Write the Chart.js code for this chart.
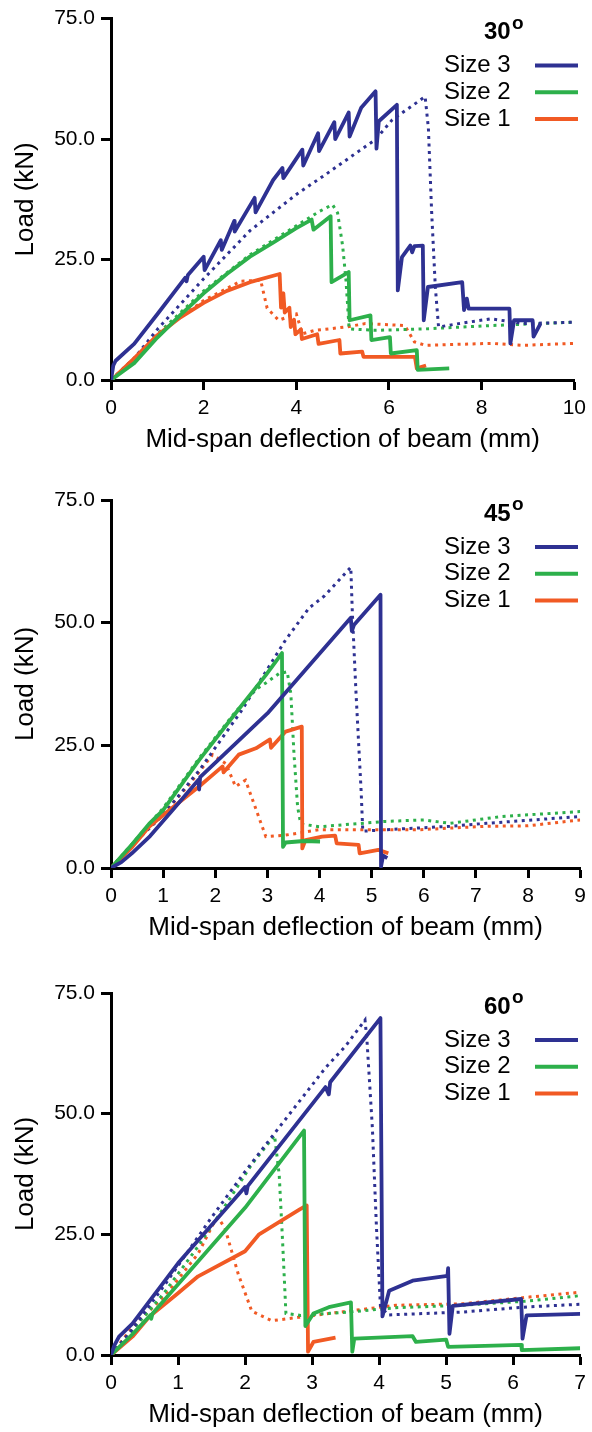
<!DOCTYPE html>
<html>
<head>
<meta charset="utf-8">
<script src="https://cdn.jsdelivr.net/npm/chart.js@4.4.1/dist/chart.umd.min.js"></script>
<style>
  body { margin: 0; background: #fff; }
  canvas { position: absolute; left: 0; }
</style>
</head>
<body>
<canvas id="c30" width="592" height="470" style="top:0px"></canvas>
<canvas id="c45" width="592" height="480" style="top:480px"></canvas>
<canvas id="c60" width="592" height="472" style="top:960px"></canvas>
<script>
// series labels and colours
const sizeLabels = ["Size 3", "Size 2", "Size 1"];
const sizeColors = ["#2E3192", "#2DB04B", "#F15A24"];
const yTicks = [0, 25, 50, 75];

// 30 degrees: [deflection mm, load kN]
const a30_size3 = [[0,0],[0.05,3],[0.1,4],[0.5,7.5],[1.02,13.9],[1.6,21.2],[1.63,20.5],[1.66,21.8],[2.0,25.6],[2.02,22.8],[2.37,29],[2.39,27],[2.66,33],[2.67,30.8],[3.1,37.8],[3.12,34.8],[3.5,41.5],[3.7,44],[3.72,41.9],[4.13,47.8],[4.15,44.5],[4.47,51.2],[4.49,47.5],[4.82,53.5],[4.84,50],[5.13,55.5],[5.15,50.5],[5.4,56.5],[5.71,59.9],[5.73,48],[5.78,53.7],[6.17,57.1],[6.19,18.6],[6.28,25.5],[6.46,27.9],[6.5,26.5],[6.55,27.8],[6.73,27.9],[6.75,12.4],[6.84,19.3],[7.58,20.3],[7.62,14.5],[7.68,16.9],[7.72,14.8],[8.6,14.8],[8.62,7.6],[8.7,12.4],[9.1,12.4],[9.12,9],[9.27,11.7]];
const a30_size3_dot = [[0,0],[0.5,4.5],[1,10.5],[2,21],[3,31],[4,38.5],[4.64,42.7],[5.35,47.5],[5.71,49.9],[6.07,54],[6.78,58.8],[6.85,52.3],[6.92,35],[7.0,19.3],[7.07,11],[7.5,11.7],[8.2,12.7],[8.9,11.7],[10,12]];
const a30_size2 = [[0,0],[0.5,3.5],[1,8.8],[1.5,13.5],[2,18],[2.5,22],[3,25.6],[3.5,28.5],[4,31.5],[4.33,33.3],[4.37,31.2],[4.74,34],[4.76,20.3],[5.13,22.4],[5.15,12.4],[5.6,13.4],[5.62,8.3],[6.02,8.9],[6.04,5.5],[6.6,6.2],[6.62,2.1],[7.3,2.4]];
const a30_size2_dot = [[0,0],[0.5,4],[1,9.5],[2,18.5],[3,26],[4,32],[4.5,35],[4.78,36.4],[4.89,34.7],[5.0,27.8],[5.07,20.9],[5.14,10.6],[5.7,10.3],[6.78,10.6],[8.2,11.3],[10,12]];
const a30_size1 = [[0,0],[0.1,0.8],[0.5,4.5],[1,9.3],[1.5,13],[2,16],[2.5,18.5],[3,20.3],[3.64,22],[3.67,15],[3.72,18],[3.75,14],[3.85,15],[3.88,11],[3.95,12.5],[3.98,9.5],[4.1,10.5],[4.12,8.5],[4.45,9.5],[4.48,7.5],[4.93,8.3],[4.95,5.5],[5.42,5.9],[5.45,4.8],[6.56,4.8],[6.6,2.4],[6.8,3.0]];
const a30_size1_dot = [[0,0],[0.5,4.5],[1,9.5],[2,16.5],[2.8,20.5],[3.23,20.7],[3.37,14.9],[3.62,12.4],[4.0,13.7],[4.13,9.6],[4.4,10.3],[5.07,11],[5.49,11.7],[6.34,11.3],[6.55,7.9],[6.78,7.2],[8.2,7.6],[8.9,7.2],[10,7.6]];

// 45 degrees
const a45_size3 = [[0,0],[0.2,1.2],[0.4,3],[0.75,6.5],[1.2,12],[1.68,18],[1.69,16],[1.71,18.5],[3,31.5],[4.6,51],[4.62,48.3],[4.66,49.5],[5.17,55.7],[5.18,0.3],[5.22,2.5],[5.3,2]];
const a45_size3_dot = [[0,0],[0.4,4.7],[1,10.8],[1.7,20],[2.5,32],[3.35,46.5],[3.8,53],[4.1,55.5],[4.6,61.3],[4.63,52],[4.7,35.7],[4.8,15.3],[4.83,7.5],[5.27,7.8],[6.5,8.5],[7.2,9.1],[9,10.5]];
const a45_size2 = [[0,0],[0.41,4.9],[0.73,9],[1,11.8],[1.69,22],[2.46,32.5],[2.97,39.3],[3.28,43.8],[3.3,4.3],[3.35,5.2],[3.7,5.5],[4.01,5.4]];
const a45_size2_dot = [[0,0],[0.41,5],[1,12.2],[1.7,22.5],[2.4,32],[2.59,34],[2.78,36.4],[2.97,37.7],[3.22,39.6],[3.38,40],[3.45,35.5],[3.51,23.3],[3.58,12.4],[3.64,9],[3.99,8.4],[5.27,9.5],[6.0,9.8],[6.5,9.1],[7.5,10.5],[9,11.5]];
const a45_size1 = [[0,0],[0.41,4.3],[0.73,8.4],[1.05,11.2],[1.69,16.6],[2.14,20.7],[2.16,19.5],[2.45,23.1],[2.78,24.4],[3.05,26.2],[3.07,24.5],[3.35,27.8],[3.66,28.8],[3.67,4],[3.73,5.7],[4.05,6.4],[4.3,6.6],[4.33,5.0],[4.75,4.7],[4.77,3],[5.13,3.7],[5.32,3.0]];
const a45_size1_dot = [[0,0],[0.41,4.7],[1,11],[1.5,17],[1.95,23.1],[2.2,21.3],[2.39,16.6],[2.58,17.9],[2.97,6.4],[3.35,6.7],[3.99,7.8],[5.9,7.8],[7.2,8.5],[8,8.6],[9,9.8]];

// 60 degrees
const a60_size3 = [[0,0],[0.05,2],[0.12,3.8],[0.32,6.5],[1,19],[2,34.8],[2.02,33.5],[2.04,35],[3.2,55.5],[3.25,54],[3.27,56.5],[4.02,69.8],[4.05,8],[4.15,13.3],[4.5,15.4],[5.02,16.4],[5.03,18],[5.05,4.4],[5.1,10.2],[6.12,11.6],[6.14,3.4],[6.2,8.2],[7,8.5]];
const a60_size3_dot = [[0,0],[0.3,5],[0.8,14.5],[1,18.5],[1.5,28.5],[2,38],[2.5,47],[3.2,59.5],[3.5,64],[3.79,69.4],[3.82,65],[3.9,47],[3.96,26.7],[4.02,10.2],[4.13,8.3],[5.24,8.9],[6.24,10],[7,10.5]];
const a60_size2 = [[0,0],[0.32,4.3],[0.59,8.3],[0.6,7.5],[0.62,8.6],[2,30.5],[2.88,46.5],[2.9,6],[3.02,8.6],[3.25,9.9],[3.58,10.9],[3.6,0.7],[3.63,3.4],[4.5,3.9],[4.55,2.7],[5.0,3.2],[5.03,1.7],[6.12,2.1],[6.13,1.0],[7,1.4]];
const a60_size2_dot = [[0,0],[0.3,4.8],[0.8,13],[1.3,22.5],[1.8,33],[2.1,39.5],[2.3,43],[2.44,45.5],[2.51,37.3],[2.56,23.6],[2.61,8.6],[2.83,8.2],[3.55,8.9],[4.25,9.8],[5.24,10.3],[6.24,11.2],[7,12.3]];
const a60_size1 = [[0,0],[0.32,3.8],[0.57,7.9],[0.99,12.7],[1.3,16.3],[2,21.5],[2.21,25],[2.81,30.1],[2.92,31],[2.94,0.7],[3.02,2.7],[3.35,3.6]];
const a60_size1_dot = [[0,0],[0.32,5.8],[0.82,12.5],[1.3,21],[1.55,27.8],[1.6,28.4],[1.7,26.3],[1.9,16.7],[2.1,9.1],[2.4,7.1],[2.8,7.8],[3.25,8.6],[4.25,10.3],[5.24,10.6],[6.24,12],[7,13]];

const FAMILY = "'Liberation Sans', Arial, Helvetica, sans-serif";

// title (angle) and legend drawn inside the plot, text on the left, line sample on the right
const panelText = {
  id: "panelText",
  afterDatasetsDraw(chart, args, opts) {
    const ctx = chart.ctx;
    const top = chart.chartArea.top;
    ctx.save();
    ctx.fillStyle = "#000";
    ctx.textAlign = "left";
    ctx.textBaseline = "alphabetic";
    ctx.font = "bold 24px " + FAMILY;
    ctx.fillText(opts.angle, 484, top + 20.5);
    ctx.font = "bold 19px " + FAMILY;
    ctx.fillText("o", 512, top + 10);
    ctx.textBaseline = "middle";
    ctx.font = "24px " + FAMILY;
    sizeLabels.forEach((label, i) => {
      const y = top + 47 + i * 26.7;
      ctx.fillText(label, 444, y);
      ctx.strokeStyle = sizeColors[i];
      ctx.lineWidth = 4;
      ctx.beginPath();
      ctx.moveTo(535, y);
      ctx.lineTo(578, y);
      ctx.stroke();
    });
    ctx.restore();
  }
};

function makePanel(id, angle, xMax, xStep, solid, dotted, padTop, padBottom) {
  const datasets = [];
  solid.forEach((d, i) => datasets.push({
    data: d, borderColor: sizeColors[i], borderWidth: 3.8, pointRadius: 0,
    borderJoinStyle: "round", tension: 0, order: 1
  }));
  dotted.forEach((d, i) => datasets.push({
    data: d, borderColor: sizeColors[i], borderWidth: 3, pointRadius: 0,
    borderDash: [3, 4.5], tension: 0, order: 2
  }));
  return new Chart(document.getElementById(id).getContext("2d"), {
    type: "line",
    data: { datasets },
    options: {
      responsive: false,
      animation: false,
      events: [],
      layout: { padding: { top: padTop, bottom: padBottom, left: 0, right: 11 } },
      plugins: { legend: { display: false }, tooltip: { enabled: false }, panelText: { angle } },
      scales: {
        x: {
          type: "linear", min: 0, max: xMax,
          afterFit: (s) => { s.height = 75; },
          border: { color: "#000", width: 3 },
          grid: { drawOnChartArea: false, tickLength: 10, tickWidth: 3, tickColor: "#000" },
          ticks: { stepSize: xStep, color: "#000", padding: 6, font: { family: FAMILY, size: 21 } },
          title: { display: true, text: "Mid-span deflection of beam (mm)", color: "#000",
                   padding: { top: 0, bottom: 0 }, font: { family: FAMILY, size: 26 } }
        },
        y: {
          type: "linear", min: 0, max: 75,
          afterFit: (s) => { s.width = 111; },
          afterBuildTicks: (s) => { s.ticks = yTicks.map(v => ({ value: v })); },
          border: { color: "#000", width: 3 },
          grid: { drawOnChartArea: false, tickLength: 10, tickWidth: 3, tickColor: "#000" },
          ticks: { color: "#000", padding: 6, font: { family: FAMILY, size: 21 },
                   callback: (v) => v.toFixed(1) },
          title: { display: true, text: "Load (kN)", color: "#000",
                   padding: { top: 10, bottom: 0 }, font: { family: FAMILY, size: 26 } }
        }
      }
    },
    plugins: [panelText]
  });
}

document.addEventListener("DOMContentLoaded", () => {
  makePanel("c30", "30", 10, 2,
    [a30_size3, a30_size2, a30_size1], [a30_size3_dot, a30_size2_dot, a30_size1_dot], 17, 15);
  makePanel("c45", "45", 9, 1,
    [a45_size3, a45_size2, a45_size1], [a45_size3_dot, a45_size2_dot, a45_size1_dot], 20, 17);
  makePanel("c60", "60", 7, 1,
    [a60_size3, a60_size2, a60_size1], [a60_size3_dot, a60_size2_dot, a60_size1_dot], 33, 2);
});
</script>
</body>
</html>
